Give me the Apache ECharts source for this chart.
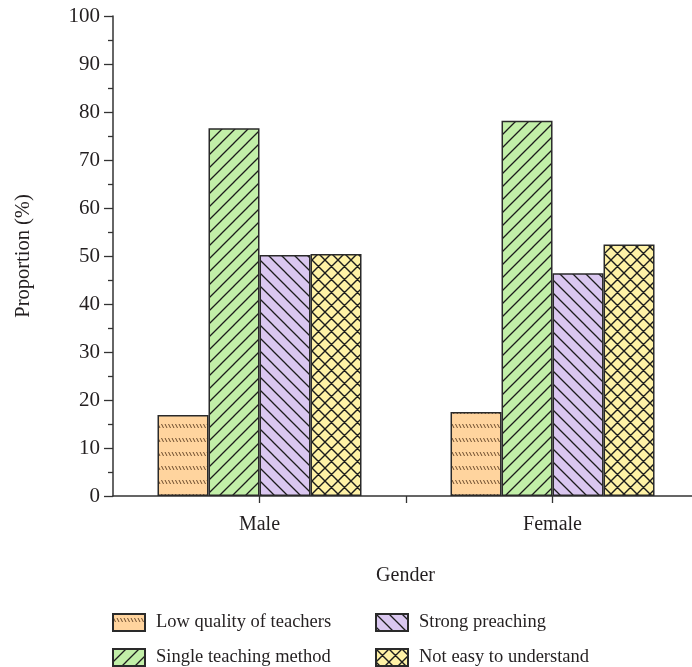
<!DOCTYPE html>
<html>
<head>
<meta charset="utf-8">
<script src="https://cdn.jsdelivr.net/npm/echarts@6/dist/echarts.min.js"></script>
<style>html,body{margin:0;padding:0;background:#fff;}#c{width:692px;height:667px;}</style>
</head>
<body>
<div id="c"></div>
<script>
const categories = ['Male', 'Female'];
const seriesNames = ['Low quality of teachers', 'Single teaching method', 'Strong preaching', 'Not easy to understand'];
const lowQuality = [16.9, 17.5];
const singleMethod = [76.6, 78.2];
const strongPreaching = [50.2, 46.4];
const notEasy = [50.4, 52.4];
const yTicks = [0, 10, 20, 30, 40, 50, 60, 70, 80, 90, 100];
const xRange = [0.5, 2.476];

const FONT = 'Liberation Serif';
const TXT = '#231f20';

function makePattern(w, h, bg, draw) {
  const c = document.createElement('canvas');
  c.width = w; c.height = h;
  const ctx = c.getContext('2d');
  ctx.fillStyle = bg; ctx.fillRect(0, 0, w, h);
  draw(ctx, w, h);
  return { image: c, repeat: 'repeat' };
}
function lines(ctx, segs, color, lw) {
  ctx.strokeStyle = color; ctx.lineWidth = lw;
  ctx.beginPath();
  segs.forEach(s => { ctx.moveTo(s[0], s[1]); ctx.lineTo(s[2], s[3]); });
  ctx.stroke();
}
const P = 13;
const patOrange = makePattern(7, 14, '#FFD49E', (ctx) => {
  lines(ctx, [[0.5, 4, 2.5, 8], [4, 4, 6, 8]], '#6b4b2c', 1);
});
const patGreen = makePattern(P, P, '#C2EFA8', (ctx) => {
  lines(ctx, [[-1, P + 1, P + 1, -1], [-2, 2, 2, -2], [P - 2, P + 2, P + 2, P - 2]], '#1c1c1c', 1.3);
});
const patPurple = makePattern(P, P, '#DAC7F0', (ctx) => {
  lines(ctx, [[-1, -1, P + 1, P + 1], [-2, P - 2, 2, P + 2], [P - 2, -2, P + 2, 2]], '#1c1c1c', 1.3);
});
const patYellow = makePattern(P, P, '#FFF2A6', (ctx) => {
  lines(ctx, [[-1, P + 1, P + 1, -1], [-2, 2, 2, -2], [P - 2, P + 2, P + 2, P - 2],
              [-1, -1, P + 1, P + 1], [-2, P - 2, 2, P + 2], [P - 2, -2, P + 2, 2]], '#1c1c1c', 1.4);
});
const pats = [patOrange, patGreen, patPurple, patYellow];
const datas = [lowQuality, singleMethod, strongPreaching, notEasy];

const chart = echarts.init(document.getElementById('c'), null, { renderer: 'canvas' });
const legendText = { fontFamily: FONT, fontSize: 18.5, color: TXT, padding: [0, 0, 0, 6] };
chart.setOption({
  animation: false,
  backgroundColor: '#fff',
  grid: { left: 113, right: 0, top: 16, bottom: 171, containLabel: false },
  legend: [
    { data: [seriesNames[0], seriesNames[1]], orient: 'vertical', left: 112, top: 613, icon: 'rect',
      itemWidth: 32, itemHeight: 17, itemGap: 16, textStyle: legendText, padding: 0, selectedMode: false },
    { data: [seriesNames[2], seriesNames[3]], orient: 'vertical', left: 375, top: 613, icon: 'rect',
      itemWidth: 32, itemHeight: 17, itemGap: 16, textStyle: legendText, padding: 0, selectedMode: false }
  ],
  xAxis: {
    type: 'value', min: xRange[0], max: xRange[1], interval: 0.5,
    name: 'Gender', nameLocation: 'middle', nameGap: 70,
    nameTextStyle: { fontFamily: FONT, fontSize: 20, color: TXT, padding: [0, 0, 0, 6] },
    axisLine: { show: true, onZero: false, lineStyle: { color: '#333', width: 1.5 } },
    axisTick: { show: true, length: 7, lineStyle: { color: '#333', width: 1.3 } },
    axisLabel: { fontFamily: FONT, fontSize: 20, color: TXT, margin: 19, showMaxLabel: false, showMinLabel: false,
      formatter: (v) => (Math.abs(v - Math.round(v)) < 1e-6 && categories[Math.round(v) - 1]) || '' },
    splitLine: { show: false }
  },
  yAxis: {
    type: 'value', min: yTicks[0], max: yTicks[yTicks.length - 1], interval: 10,
    name: 'Proportion (%)', nameLocation: 'middle', nameGap: 79,
    nameTextStyle: { fontFamily: FONT, fontSize: 20.5, color: TXT },
    axisLine: { show: true, lineStyle: { color: '#333', width: 1.5 } },
    axisTick: { show: true, length: 9, lineStyle: { color: '#333', width: 1.3 } },
    minorTick: { show: true, splitNumber: 2, length: 5, lineStyle: { color: '#333', width: 1.3 } },
    axisLabel: { fontFamily: FONT, fontSize: 21, color: TXT, margin: 13 },
    splitLine: { show: false }
  },
  series: seriesNames.map((n, i) => ({
    name: n, type: 'bar', data: datas[i].map((v, k) => [k + 1, v]),
    barWidth: 51, barGap: '0%',
    itemStyle: { color: pats[i], borderColor: '#2a2a2a', borderWidth: 1.5 }
  }))
});
</script>
</body>
</html>
